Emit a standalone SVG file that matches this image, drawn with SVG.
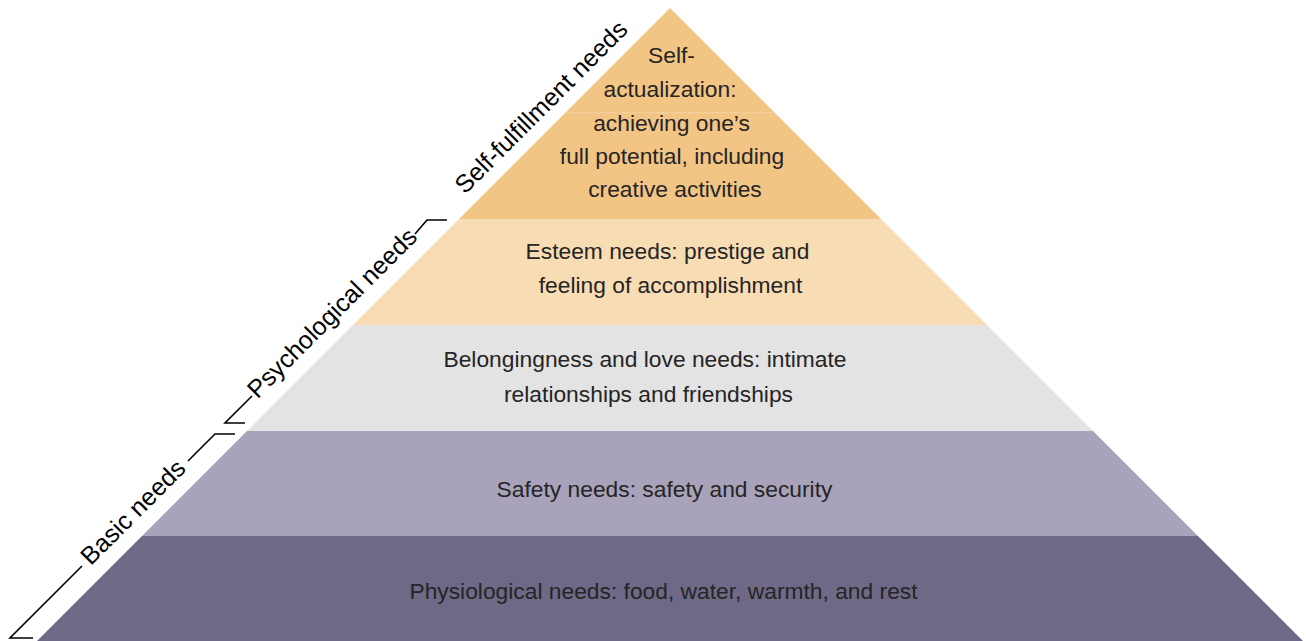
<svg xmlns="http://www.w3.org/2000/svg" width="1306" height="641" viewBox="0 0 1306 641">
<style>
.t{font-family:"Liberation Sans",Arial,sans-serif;font-size:22.8px;fill:#262424;text-anchor:middle}
.r{font-family:"Liberation Sans",Arial,sans-serif;font-size:25px;fill:#000;text-anchor:middle}
.br{fill:none;stroke:#000;stroke-width:1.6}
</style>
<rect width="1306" height="641" fill="#fff"/>
<g id="self-actualization">
<polygon points="670,8 881,219 459,219" fill="#f2c584"/>
<line x1="565.5" y1="112.7" x2="774.5" y2="112.7" stroke="#f5d1a0" stroke-width="1"/>
<text class="t" x="671.5" y="63.3">Self-</text>
<text class="t" x="670" y="97.3">actualization:</text>
<text class="t" x="671.5" y="130.7">achieving one’s</text>
<text class="t" x="672" y="164">full potential, including</text>
<text class="t" x="675" y="197.3">creative activities</text>
</g>
<g id="esteem">
<polygon points="459,219 881,219 987,325 353,325" fill="#f8ddb4"/>
<text class="t" x="667.5" y="259.3">Esteem needs: prestige and</text>
<text class="t" x="670.5" y="293.3">feeling of accomplishment</text>
</g>
<g id="belongingness">
<polygon points="353,325 987,325 1093,431 247,431" fill="#e3e3e3"/>
<text class="t" x="645" y="366.7">Belongingness and love needs: intimate</text>
<text class="t" x="648.5" y="401.7">relationships and friendships</text>
</g>
<g id="safety">
<polygon points="247,431 1093,431 1198,536 142,536" fill="#a8a3bb"/>
<text class="t" x="664.5" y="496.7">Safety needs: safety and security</text>
</g>
<g id="physiological">
<polygon points="142,536 1198,536 1303,641 37,641" fill="#6e6986"/>
<text class="t" x="663.5" y="599.3">Physiological needs: food, water, warmth, and rest</text>
</g>
<g id="connectors">
<polyline class="br" points="33,638 10,638 82,566"/>
<polyline class="br" points="188,461 215,434 235,434"/>
<polyline class="br" points="245,423 225,423 252,396"/>
<polyline class="br" points="415,234 427,220 447,220"/>
</g>
<g id="labels">
<text class="r" transform="translate(139,518) rotate(-45)">Basic needs</text>
<text class="r" transform="translate(338,319) rotate(-45)">Psychological needs</text>
<text class="r" transform="translate(547,113) rotate(-45)">Self-fulfillment needs</text>
</g>
</svg>
